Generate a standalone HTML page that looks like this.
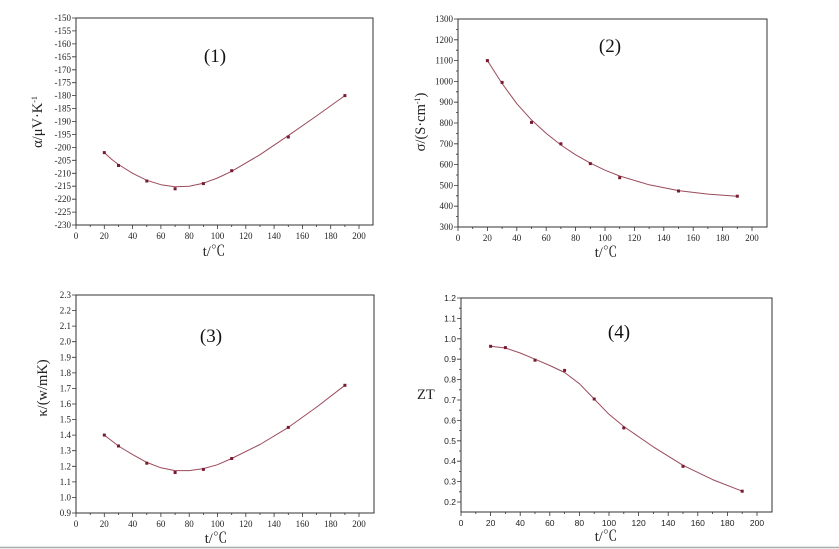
<!DOCTYPE html>
<html><head><meta charset="utf-8"><style>
html,body{margin:0;padding:0;background:#fff;}
svg{display:block;}
.t{font-family:"Liberation Serif",serif;font-size:9px;fill:#222;}
.s{font-family:"Liberation Sans",sans-serif;font-size:8.5px;fill:#222;}
.lab{font-family:"Liberation Serif","Noto Serif CJK SC",serif;font-size:14.5px;fill:#222;}
.ttl{font-family:"Liberation Serif",serif;font-size:19px;fill:#111;}
.ax{fill:none;stroke:#333;stroke-width:1;}
.tk{stroke:#333;stroke-width:0.8;}
.cv{fill:none;stroke:#9a4a5a;stroke-width:1;stroke-linejoin:round;}
.pt{fill:#7a1a30;}
</style></head><body>
<svg width="839" height="549" viewBox="0 0 839 549" xmlns="http://www.w3.org/2000/svg">
<rect width="839" height="549" fill="#fff"/>
<line x1="0" y1="547.5" x2="839" y2="547.5" stroke="#aaa" stroke-width="1.5"/>

<!-- Plot 1 -->
<rect class="ax" x="76" y="18" width="297" height="207"/>
<path class="tk" d="M76,225v4M90.2,225v2M104.3,225v4M118.5,225v2M132.6,225v4M146.8,225v2M160.9,225v4M175.1,225v2M189.2,225v4M203.4,225v2M217.5,225v4M231.7,225v2M245.8,225v4M260,225v2M274.1,225v4M288.3,225v2M302.4,225v4M316.6,225v2M330.7,225v4M344.9,225v2M359,225v4
M76,18h-4M76,30.9h-4M76,43.9h-4M76,56.8h-4M76,69.8h-4M76,82.7h-4M76,95.6h-4M76,108.6h-4M76,121.5h-4M76,134.5h-4M76,147.4h-4M76,160.3h-4M76,173.3h-4M76,186.2h-4M76,199.2h-4M76,212.1h-4M76,225h-4"/>
<g class="t" text-anchor="end">
<text x="71" y="21">-150</text><text x="71" y="33.9">-155</text><text x="71" y="46.9">-160</text><text x="71" y="59.8">-165</text><text x="71" y="72.8">-170</text><text x="71" y="85.7">-175</text><text x="71" y="98.6">-180</text><text x="71" y="111.6">-185</text><text x="71" y="124.5">-190</text><text x="71" y="137.5">-195</text><text x="71" y="150.4">-200</text><text x="71" y="163.3">-205</text><text x="71" y="176.3">-210</text><text x="71" y="189.2">-215</text><text x="71" y="202.2">-220</text><text x="71" y="215.1">-225</text><text x="71" y="228">-230</text>
</g>
<g class="t" text-anchor="middle">
<text x="76" y="239">0</text><text x="104.3" y="239">20</text><text x="132.6" y="239">40</text><text x="160.9" y="239">60</text><text x="189.2" y="239">80</text><text x="217.5" y="239">100</text><text x="245.8" y="239">120</text><text x="274.1" y="239">140</text><text x="302.4" y="239">160</text><text x="330.7" y="239">180</text><text x="359" y="239">200</text>
</g>
<text class="lab" x="214" y="256" text-anchor="middle">t/℃</text>
<text class="lab" transform="translate(42,122) rotate(-90)" text-anchor="middle">α/μV·K<tspan dy="-5" font-size="8">-1</tspan></text>
<text class="ttl" x="215" y="62" text-anchor="middle">(1)</text>
<polyline class="cv" points="104.3,152.6 111.4,159.1 118.5,164.5 132.6,173.3 146.8,180.3 160.9,184.7 175.1,186.8 189.2,186.3 203.4,183.2 217.5,178 231.7,171.3 260,154.7 288.3,135.6 316.6,115.9 344.9,95.6"/>
<g class="pt"><rect x="102.8" y="151.1" width="3" height="3"/><rect x="117" y="164" width="3" height="3"/><rect x="145.3" y="179.5" width="3" height="3"/><rect x="173.6" y="187.3" width="3" height="3"/><rect x="201.9" y="182.1" width="3" height="3"/><rect x="230.2" y="169.2" width="3" height="3"/><rect x="286.8" y="135.5" width="3" height="3"/><rect x="343.4" y="94.1" width="3" height="3"/></g>

<!-- Plot 2 -->
<rect class="ax" x="458" y="19" width="309" height="208"/>
<path class="tk" d="M458,227v4M472.7,227v2M487.4,227v4M502.1,227v2M516.8,227v4M531.5,227v2M546.2,227v4M560.9,227v2M575.6,227v4M590.3,227v2M605,227v4M619.7,227v2M634.4,227v4M649.1,227v2M663.8,227v4M678.5,227v2M693.2,227v4M707.9,227v2M722.6,227v4M737.3,227v2M752,227v4
M458,19h-4M458,39.8h-4M458,60.6h-4M458,81.4h-4M458,102.2h-4M458,123h-4M458,143.8h-4M458,164.6h-4M458,185.4h-4M458,206.2h-4M458,227h-4
M458,29.4h-2M458,50.2h-2M458,71h-2M458,91.8h-2M458,112.6h-2M458,133.4h-2M458,154.2h-2M458,175h-2M458,195.8h-2M458,216.6h-2"/>
<g class="t" text-anchor="end">
<text x="453" y="22">1300</text><text x="453" y="42.8">1200</text><text x="453" y="63.6">1100</text><text x="453" y="84.4">1000</text><text x="453" y="105.2">900</text><text x="453" y="126">800</text><text x="453" y="146.8">700</text><text x="453" y="167.6">600</text><text x="453" y="188.4">500</text><text x="453" y="209.2">400</text><text x="453" y="230">300</text>
</g>
<g class="t" text-anchor="middle">
<text x="458" y="241">0</text><text x="487.4" y="241">20</text><text x="516.8" y="241">40</text><text x="546.2" y="241">60</text><text x="575.6" y="241">80</text><text x="605" y="241">100</text><text x="634.4" y="241">120</text><text x="663.8" y="241">140</text><text x="693.2" y="241">160</text><text x="722.6" y="241">180</text><text x="752" y="241">200</text>
</g>
<text class="lab" x="606" y="257" text-anchor="middle">t/℃</text>
<text class="lab" transform="translate(425,122) rotate(-90)" text-anchor="middle">σ/(S·cm<tspan dy="-5" font-size="8">-1</tspan><tspan dy="5">)</tspan></text>
<text class="ttl" x="610" y="52" text-anchor="middle">(2)</text>
<polyline class="cv" points="487.4,60.6 502.1,83.5 516.8,103.7 531.5,119.9 546.2,133.4 560.9,145 575.6,154.8 590.3,163.1 605,170.2 619.7,176 649.1,184.8 678.5,190.6 707.9,194.1 737.3,196.2"/>
<g class="pt"><rect x="485.9" y="59.1" width="3" height="3"/><rect x="500.6" y="80.9" width="3" height="3"/><rect x="530" y="120.9" width="3" height="3"/><rect x="559.4" y="142.3" width="3" height="3"/><rect x="588.8" y="162.1" width="3" height="3"/><rect x="618.2" y="176.2" width="3" height="3"/><rect x="677" y="189.5" width="3" height="3"/><rect x="735.8" y="194.7" width="3" height="3"/></g>

<!-- Plot 3 -->
<rect class="ax" x="76" y="295" width="298" height="218"/>
<path class="tk" d="M76,513v4M90.2,513v2M104.3,513v4M118.5,513v2M132.6,513v4M146.8,513v2M160.9,513v4M175.1,513v2M189.2,513v4M203.4,513v2M217.5,513v4M231.7,513v2M245.8,513v4M260,513v2M274.1,513v4M288.3,513v2M302.4,513v4M316.6,513v2M330.7,513v4M344.9,513v2M359,513v4
M76,295h-4M76,310.6h-4M76,326.1h-4M76,341.7h-4M76,357.3h-4M76,372.9h-4M76,388.4h-4M76,404h-4M76,419.6h-4M76,435.1h-4M76,450.7h-4M76,466.3h-4M76,481.9h-4M76,497.4h-4M76,513h-4"/>
<g class="t" text-anchor="end">
<text x="71" y="298">2.3</text><text x="71" y="313.6">2.2</text><text x="71" y="329.1">2.1</text><text x="71" y="344.7">2.0</text><text x="71" y="360.3">1.9</text><text x="71" y="375.9">1.8</text><text x="71" y="391.4">1.7</text><text x="71" y="407">1.6</text><text x="71" y="422.6">1.5</text><text x="71" y="438.1">1.4</text><text x="71" y="453.7">1.3</text><text x="71" y="469.3">1.2</text><text x="71" y="484.9">1.1</text><text x="71" y="500.4">1.0</text><text x="71" y="516">0.9</text>
</g>
<g class="t" text-anchor="middle">
<text x="76" y="527">0</text><text x="104.3" y="527">20</text><text x="132.6" y="527">40</text><text x="160.9" y="527">60</text><text x="189.2" y="527">80</text><text x="217.5" y="527">100</text><text x="245.8" y="527">120</text><text x="274.1" y="527">140</text><text x="302.4" y="527">160</text><text x="330.7" y="527">180</text><text x="359" y="527">200</text>
</g>
<text class="lab" x="216" y="543" text-anchor="middle">t/℃</text>
<text class="lab" transform="translate(47,388) rotate(-90)" text-anchor="middle">κ/(w/mK)</text>
<text class="ttl" x="211" y="342" text-anchor="middle">(3)</text>
<polyline class="cv" points="104.3,435.1 118.5,446 132.6,454.6 146.8,462.4 160.9,467.8 175.1,470.6 189.2,470.6 203.4,468.6 217.5,464.7 231.7,458.5 260,444.5 288.3,427.4 316.6,407.1 344.9,385.3"/>
<g class="pt"><rect x="102.8" y="433.6" width="3" height="3"/><rect x="117" y="444.5" width="3" height="3"/><rect x="145.3" y="461.7" width="3" height="3"/><rect x="173.6" y="471" width="3" height="3"/><rect x="201.9" y="467.9" width="3" height="3"/><rect x="230.2" y="457" width="3" height="3"/><rect x="286.8" y="425.9" width="3" height="3"/><rect x="343.4" y="383.8" width="3" height="3"/></g>

<!-- Plot 4 -->
<rect class="ax" x="461" y="298" width="311" height="214"/>
<path class="tk" d="M461,512v4M475.8,512v2M490.6,512v4M505.4,512v2M520.2,512v4M535,512v2M549.8,512v4M564.6,512v2M579.4,512v4M594.2,512v2M609,512v4M623.8,512v2M638.6,512v4M653.4,512v2M668.2,512v4M683,512v2M697.8,512v4M712.6,512v2M727.4,512v4M742.2,512v2M757,512v4
M461,298h-4M461,318.4h-4M461,338.8h-4M461,359.2h-4M461,379.6h-4M461,400h-4M461,420.4h-4M461,440.8h-4M461,461.2h-4M461,481.6h-4M461,502h-4
M461,308.2h-2M461,328.6h-2M461,349h-2M461,369.4h-2M461,389.8h-2M461,410.2h-2M461,430.6h-2M461,451h-2M461,471.4h-2M461,491.8h-2"/>
<g class="s" text-anchor="end">
<text x="456" y="301">1.2</text><text x="456" y="321.4">1.1</text><text x="456" y="341.8">1.0</text><text x="456" y="362.2">0.9</text><text x="456" y="382.6">0.8</text><text x="456" y="403">0.7</text><text x="456" y="423.4">0.6</text><text x="456" y="443.8">0.5</text><text x="456" y="464.2">0.4</text><text x="456" y="484.6">0.3</text><text x="456" y="505">0.2</text>
</g>
<g class="s" text-anchor="middle">
<text x="461" y="526">0</text><text x="490.6" y="526">20</text><text x="520.2" y="526">40</text><text x="549.8" y="526">60</text><text x="579.4" y="526">80</text><text x="609" y="526">100</text><text x="638.6" y="526">120</text><text x="668.2" y="526">140</text><text x="697.8" y="526">160</text><text x="727.4" y="526">180</text><text x="757" y="526">200</text>
</g>
<text class="lab" x="606" y="541" text-anchor="middle">t/℃</text>
<text class="lab" x="417" y="399">ZT</text>
<text class="ttl" x="619" y="338" text-anchor="middle">(4)</text>
<polyline class="cv" points="490.6,346.3 505.4,348 520.2,353 535,359.2 549.8,365.5 564.6,372.5 579.4,383.7 594.2,399 609,414.3 623.8,426.5 653.4,446.9 683,465.3 712.6,479.6 742.2,491.2"/>
<g class="pt"><rect x="489.1" y="344.8" width="3" height="3"/><rect x="503.9" y="346.1" width="3" height="3"/><rect x="533.5" y="358.7" width="3" height="3"/><rect x="563.1" y="368.9" width="3" height="3"/><rect x="592.7" y="397.5" width="3" height="3"/><rect x="622.3" y="426.4" width="3" height="3"/><rect x="681.5" y="464.8" width="3" height="3"/><rect x="740.7" y="489.7" width="3" height="3"/></g>
</svg>
</body></html>
